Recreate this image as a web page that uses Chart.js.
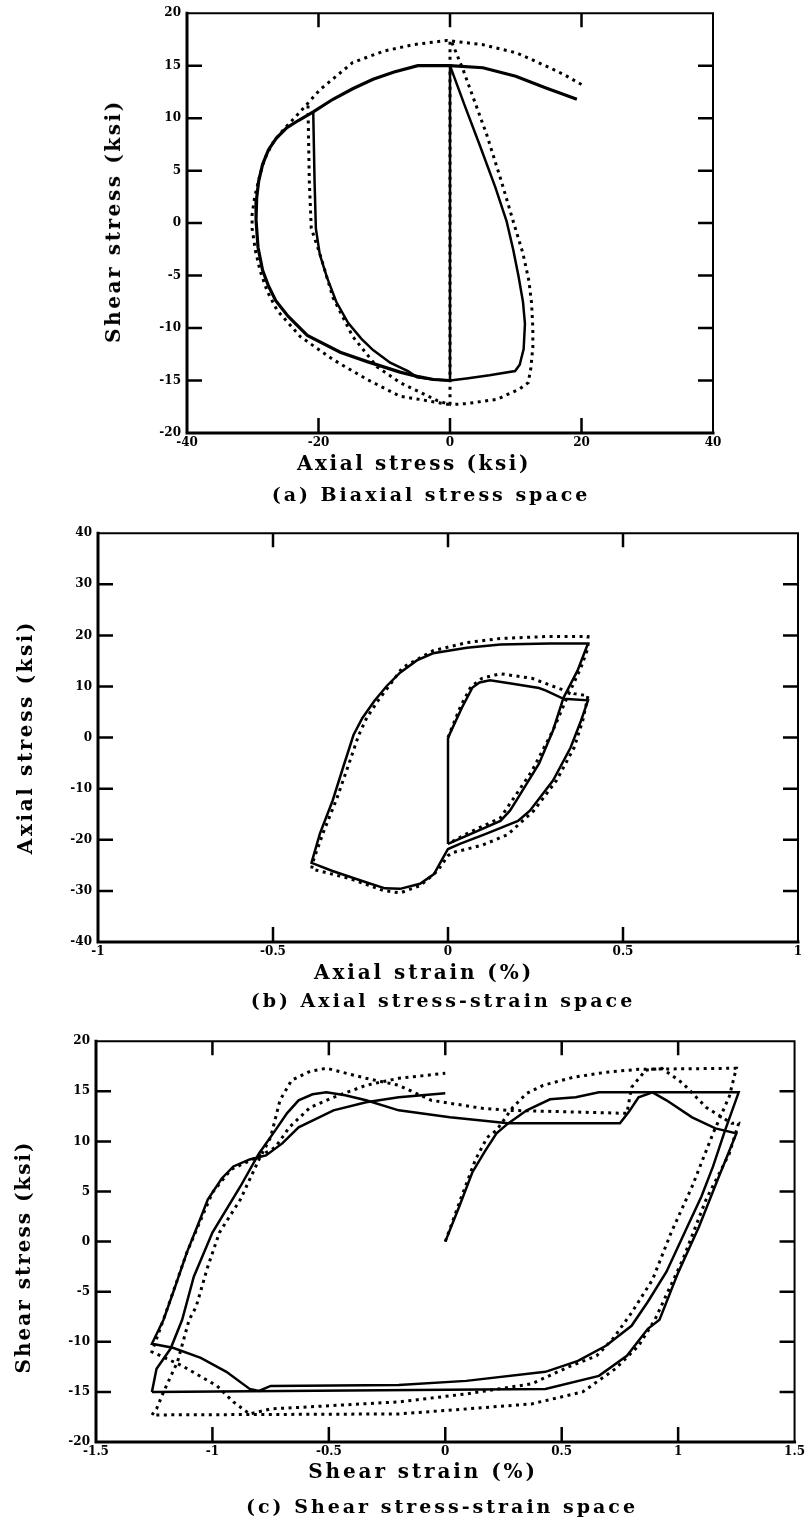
<!DOCTYPE html>
<html>
<head>
<meta charset="utf-8">
<script src="https://cdn.jsdelivr.net/npm/chart.js@4.4.0/dist/chart.umd.min.js"></script>
<style>
  body { margin: 0; background: #fff; width: 808px; height: 1519px; position: relative; overflow: hidden; }
  canvas { position: absolute; left: 0; }
  .lbl { position: absolute; font-family: "DejaVu Serif", serif; font-weight: bold; color: #000;
         white-space: nowrap; transform: translate(-50%, -50%); z-index: 2; }
  .vert { transform: translate(-50%, -50%) rotate(-90deg); }
</style>
</head>
<body>
<canvas id="chartA" width="808" height="460" style="top:0px"></canvas>
<canvas id="chartB" width="808" height="450" style="top:520px"></canvas>
<canvas id="chartC" width="808" height="440" style="top:1028px"></canvas>

<div class="lbl vert" style="left:113px;top:221px;font-size:20px;letter-spacing:2.6px">Shear stress (ksi)</div>
<div class="lbl" style="left:414px;top:463px;font-size:20px;letter-spacing:2.6px">Axial stress (ksi)</div>
<div class="lbl" style="left:431px;top:494px;font-size:19px;letter-spacing:3px">(a) Biaxial stress space</div>

<div class="lbl vert" style="left:25px;top:737px;font-size:20px;letter-spacing:2.6px">Axial stress (ksi)</div>
<div class="lbl" style="left:424px;top:972px;font-size:20px;letter-spacing:2.9px">Axial strain (%)</div>
<div class="lbl" style="left:443px;top:1000px;font-size:19px;letter-spacing:3px">(b) Axial stress-strain space</div>

<div class="lbl vert" style="left:23px;top:1257px;font-size:20px;letter-spacing:2px">Shear stress (ksi)</div>
<div class="lbl" style="left:423px;top:1471px;font-size:20px;letter-spacing:2.9px">Shear strain (%)</div>
<div class="lbl" style="left:442px;top:1506px;font-size:19px;letter-spacing:3px">(c) Shear stress-strain space</div>

<script>
// ---- (a) biaxial stress space: [axial stress, shear stress] in ksi ----
var aShearSolid = [[0, -15], [0, 15]];
var aRightSolid = [[0, 15], [2.3, 11.1], [4.6, 7.3], [6.9, 3.4], [8.6, 0.2], [9.6, -2.5], [10.4, -5],
  [11.1, -7.5], [11.4, -9.6], [11.2, -12], [10.6, -13.5], [9.9, -14.1], [6, -14.5], [2.5, -14.8], [0, -15]];
var aOuterSolid = [[19.3, 11.8], [14.5, 12.9], [10, 14], [5, 14.8], [0, 15], [-4.9, 15], [-8.5, 14.4],
  [-11.7, 13.7], [-14.8, 12.8], [-17.8, 11.8], [-20.8, 10.6], [-23, 9.8], [-24.8, 9.1], [-26.4, 8.1],
  [-27.6, 7], [-28.5, 5.6], [-29.1, 4], [-29.4, 2.4], [-29.5, 0.3], [-29.2, -2.3], [-28.5, -4.5],
  [-27.6, -6], [-26.5, -7.4], [-24.6, -8.9], [-21.7, -10.7], [-16.7, -12.3], [-12.6, -13.2], [-7.6, -14.2],
  [-5, -14.6], [-2.5, -14.9], [0, -15]];
var aInnerSolid = [[-20.8, 10.6], [-20.6, 4], [-20.4, -0.5], [-19.8, -3], [-18.7, -5.2], [-17.3, -7.5],
  [-15.5, -9.5], [-13.5, -11], [-11.7, -12.1], [-9.1, -13.3], [-6.4, -14.1], [-5, -14.7], [-2.5, -14.9], [0, -15]];
var aShearDot = [[0, -17.3], [0, 17.3]];
var aRightDot = [[0.3, 17.2], [2, 14.6], [3.8, 11.5], [5.6, 8.4], [7.9, 3.8], [9.6, 0.2], [11.1, -2.9],
  [12, -5.5], [12.4, -7.6], [12.6, -10], [12.6, -11.8], [12.3, -13.8], [11.9, -15.2], [10.6, -15.8],
  [7.1, -16.8], [2.5, -17.2], [0, -17.3]];
var aOuterDot = [[20, 13.2], [17.5, 14.1], [15.2, 14.8], [10.2, 16.2], [5, 17], [-0.5, 17.4], [-5.6, 17],
  [-10, 16.4], [-14.8, 15.3], [-19.8, 12.7], [-22.8, 10.6], [-25.2, 9], [-26.9, 7.7], [-28.2, 6.1],
  [-28.9, 4.6], [-29.7, 2.5], [-30.1, 0.8], [-30.1, -0.5], [-29.6, -2.6], [-28.9, -4.5], [-27.8, -6.5],
  [-26.3, -8.3], [-22.8, -10.8], [-17.8, -13], [-12.6, -14.9], [-7.6, -16.5], [-4.6, -16.8], [0, -17.3]];
var aInnerDot = [[-21.6, 11.2], [-21.4, 4], [-21.1, -0.5], [-19.8, -2.9], [-17.8, -7.1], [-14.8, -10.8],
  [-11.1, -13.7], [-7.6, -15.2], [-4.6, -16.1], [-2, -16.9], [0, -17.3]];

// ---- (b) axial stress-strain: [axial strain %, axial stress ksi] ----
var bStartSolid = [[0, 0], [0, -20.8]];
var bLoopSolid = [[0, 0], [0.04, 5.9], [0.07, 9.8], [0.09, 10.8], [0.12, 11.2], [0.18, 10.6], [0.26, 9.7],
  [0.28, 9.2], [0.33, 7.6], [0.4, 7.3], [0.38, 3.3], [0.35, -2], [0.3, -8.4], [0.234, -14.3], [0.2, -16.3],
  [0.11, -18.8], [0.034, -20.8], [0, -21.8], [-0.014, -23.5], [-0.04, -26.7], [-0.08, -28.6], [-0.137, -29.6],
  [-0.18, -29.5], [-0.23, -28.4], [-0.33, -26.1], [-0.39, -24.5], [-0.366, -18.8], [-0.33, -12.4],
  [-0.3, -5.9], [-0.27, 0.5], [-0.245, 3.8], [-0.21, 7.2], [-0.175, 10.1], [-0.137, 12.7], [-0.089, 15.1],
  [-0.043, 16.5], [0.054, 17.6], [0.15, 18.2], [0.29, 18.4], [0.4, 18.4], [0.37, 13.1], [0.33, 7.8],
  [0.3, 1.4], [0.26, -5.1], [0.2, -11.8], [0.177, -14.3], [0.15, -16.3], [0.054, -19.2], [0, -20.8]];
var bLoopDot = [[0, 0], [0.035, 6], [0.065, 9.9], [0.097, 11.6], [0.15, 12.5], [0.24, 11.6], [0.31, 9.8],
  [0.36, 8.6], [0.4, 8.2], [0.385, 3.3], [0.36, -2], [0.31, -8.4], [0.245, -14.3], [0.17, -19], [0.1, -21],
  [0.014, -22.5], [0, -23.1], [-0.03, -26.1], [-0.08, -29], [-0.137, -30.4], [-0.186, -29.9], [-0.28, -27.6],
  [-0.39, -25.7], [-0.383, -23.7], [-0.356, -18.5], [-0.318, -12], [-0.285, -5.5], [-0.255, 0.5],
  [-0.232, 3.9], [-0.198, 7.4], [-0.163, 10.6], [-0.13, 13.7], [-0.043, 17], [0.054, 18.6], [0.15, 19.4],
  [0.29, 19.8], [0.4, 19.8], [0.4, 17.6], [0.38, 13.7], [0.34, 7.8], [0.3, 1.4], [0.24, -6.5], [0.15, -15.7],
  [0.054, -18.8], [0, -20.8]];

// ---- (c) shear stress-strain: [shear strain %, shear stress ksi] ----
var cMainSolid = [[0, 0], [0.06, 3.5], [0.116, 6.9], [0.17, 9], [0.22, 10.8], [0.27, 11.8], [0.35, 13.1],
  [0.45, 14.2], [0.56, 14.4], [0.66, 14.9], [1.26, 14.9], [1.2, 11], [1.15, 7.5], [1.1, 4.5], [1.03, 1],
  [0.95, -3], [0.87, -6], [0.8, -8.4], [0.69, -10.4], [0.57, -11.9], [0.43, -13], [0.09, -13.9],
  [-0.2, -14.3], [-0.75, -14.4], [-0.8, -14.9], [-0.84, -14.7], [-0.94, -13], [-1.05, -11.6],
  [-1.17, -10.6], [-1.26, -10.2], [-1.21, -7.8], [-1.16, -4.5], [-1.11, -1.1], [-1.06, 1.8], [-1.02, 4.2],
  [-0.96, 6.3], [-0.91, 7.5], [-0.84, 8.2], [-0.77, 8.6], [-0.7, 9.8], [-0.63, 11.4], [-0.48, 13.1],
  [-0.34, 13.9], [-0.2, 14.4], [0, 14.8]];
var cLoopSolid = [[-1.26, -15], [-1.24, -12.7], [-1.18, -10.7], [-1.13, -7.8], [-1.08, -3.5], [-1, 0.9],
  [-0.88, 5.5], [-0.8, 8.8], [-0.73, 11.1], [-0.68, 12.8], [-0.63, 14.1], [-0.57, 14.7], [-0.51, 14.9],
  [-0.43, 14.6], [-0.34, 14.1], [-0.2, 13.1], [0.02, 12.4], [0.27, 11.8], [0.75, 11.8], [0.79, 13],
  [0.83, 14.4], [0.89, 14.9], [0.95, 14.1], [1.06, 12.4], [1.16, 11.3], [1.25, 10.8], [1.21, 8.5],
  [1.17, 6.2], [1.09, 1.5], [1, -3.1], [0.92, -7.8], [0.87, -8.7], [0.78, -11.4], [0.66, -13.4],
  [0.43, -14.7], [-1.26, -15]];
var cMainDot = [[0, 0], [0.07, 4.5], [0.13, 8.2], [0.18, 10.4], [0.22, 11.1], [0.29, 13.4], [0.35, 14.8],
  [0.42, 15.6], [0.55, 16.4], [0.69, 16.9], [0.83, 17.2], [1.25, 17.3], [1.22, 14.5], [1.15, 10.8],
  [1.06, 5.5], [0.97, 0.9], [0.89, -3.8], [0.8, -7.1], [0.72, -9.7], [0.65, -11.4], [0.54, -12.4],
  [0.37, -14.2], [0.09, -15.2], [-0.2, -16], [-0.75, -16.7], [-0.84, -17.2], [-0.91, -16], [-0.98, -14.4],
  [-1.13, -12.4], [-1.26, -11], [-1.2, -7.1], [-1.11, -1.1], [-1, 4.9], [-0.92, 7.2], [-0.8, 8.5],
  [-0.73, 9.4], [-0.67, 11.4], [-0.58, 13.4], [-0.48, 14.4], [-0.34, 15.6], [-0.2, 16.3], [0, 16.8]];
var cLoopDot = [[-1.26, -17.3], [-1.24, -16.7], [-1.21, -15], [-1.15, -12], [-1.1, -7.8], [-1.07, -6.5],
  [-1.02, -2.5], [-0.97, 0.9], [-0.88, 4.2], [-0.8, 8.2], [-0.75, 10.4], [-0.71, 14.1], [-0.66, 16.1],
  [-0.58, 17], [-0.51, 17.3], [-0.34, 16.3], [-0.2, 15.6], [-0.06, 14.1], [0.16, 13.3], [0.27, 13.1],
  [0.78, 12.8], [0.8, 15.4], [0.86, 17.1], [0.93, 17.3], [1.02, 15.8], [1.12, 13.4], [1.23, 11.8],
  [1.26, 11.8], [1.22, 8.8], [1.12, 4.2], [1.02, -1.8], [0.9, -7.8], [0.83, -10.4], [0.73, -12.7],
  [0.59, -15], [0.37, -16.2], [0.09, -16.7], [-0.2, -17.2], [-1.26, -17.3]];

// inward tick marks
var aTicksX = [-20, 0, 20];
var aTicksY = [15, 10, 5, 0, -5, -10, -15];
var bTicksX = [-0.5, 0, 0.5];
var bTicksY = [30, 20, 10, 0, -10, -20, -30];
var cTicksX = [-1, -0.5, 0, 0.5, 1];
var cTicksY = [15, 10, 5, 0, -5, -10, -15];

// frame + ticks pointing into the plot, like the printed figure
var framePlugin = {
  id: 'frame',
  afterDatasetsDraw: function(chart, args, opts) {
    var ctx = chart.ctx, a = chart.chartArea;
    var xs = chart.scales.x, ys = chart.scales.y;
    ctx.save();
    ctx.strokeStyle = '#000';
    ctx.lineCap = 'square';
    ctx.lineWidth = 3;
    ctx.beginPath();
    ctx.moveTo(a.left, a.top); ctx.lineTo(a.left, a.bottom); ctx.lineTo(a.right, a.bottom);
    ctx.stroke();
    ctx.lineWidth = 2;
    ctx.beginPath();
    ctx.moveTo(a.left, a.top); ctx.lineTo(a.right, a.top); ctx.lineTo(a.right, a.bottom);
    ctx.stroke();
    ctx.lineCap = 'butt';
    ctx.lineWidth = 2.5;
    ctx.beginPath();
    opts.tx.forEach(function(v) {
      var px = xs.getPixelForValue(v);
      ctx.moveTo(px, a.top); ctx.lineTo(px, a.top + 14);
      ctx.moveTo(px, a.bottom); ctx.lineTo(px, a.bottom - 15);
    });
    opts.ty.forEach(function(v) {
      var py = ys.getPixelForValue(v);
      ctx.moveTo(a.left, py); ctx.lineTo(a.left + 15, py);
      ctx.moveTo(a.right - 15, py); ctx.lineTo(a.right, py);
    });
    ctx.stroke();
    ctx.restore();
  }
};

function line(pts, dotted, w) {
  return {
    data: pts.map(function(p) { return { x: p[0], y: p[1] }; }),
    showLine: true,
    borderColor: '#000',
    borderWidth: w || (dotted ? 3 : 2.5),
    borderDash: dotted ? [3, 4.5] : [],
    pointRadius: 0,
    tension: 0,
    fill: false
  };
}

var tickFont = { family: 'DejaVu Serif', weight: 'bold', size: 12 };
function plainNum(v) { return String(Math.round(v * 100) / 100); }

function makeChart(id, sets, xr, yr, pad, tx, ty) {
  return new Chart(document.getElementById(id), {
    type: 'scatter',
    data: { datasets: sets },
    options: {
      responsive: false,
      animation: false,
      events: [],
      layout: { padding: pad },
      plugins: { legend: { display: false }, tooltip: { enabled: false }, frame: { tx: tx, ty: ty } },
      scales: {
        x: {
          type: 'linear', min: xr[0], max: xr[1],
          ticks: { stepSize: xr[2], color: '#000', font: tickFont, padding: 3, maxRotation: 0,
                   autoSkip: false, callback: plainNum },
          grid: { display: false, drawTicks: false, tickLength: 0 }, border: { display: false },
          afterFit: function(s) { s.height = 22; }
        },
        y: {
          type: 'linear', min: yr[0], max: yr[1],
          ticks: { stepSize: yr[2], color: '#000', font: tickFont, padding: 6, autoSkip: false,
                   callback: plainNum },
          grid: { display: false, drawTicks: false, tickLength: 0 }, border: { display: false },
          afterFit: function(s) { s.width = 45; }
        }
      }
    },
    plugins: [framePlugin]
  });
}

makeChart('chartA', [
  line(aOuterSolid, false, 3.2), line(aShearSolid), line(aRightSolid), line(aInnerSolid),
  line(aShearDot, true), line(aRightDot, true), line(aOuterDot, true), line(aInnerDot, true)
], [-40, 40, 20], [-20, 20, 5], { left: 142, right: 95, top: 9, bottom: 5 }, aTicksX, aTicksY);

makeChart('chartB', [
  line(bStartSolid), line(bLoopSolid), line(bLoopDot, true)
], [-1, 1, 0.5], [-40, 40, 10], { left: 53, right: 10, top: 13, bottom: 6 }, bTicksX, bTicksY);

makeChart('chartC', [
  line(cMainSolid), line(cLoopSolid), line(cMainDot, true), line(cLoopDot, true)
], [-1.5, 1.5, 0.5], [-20, 20, 5], { left: 51, right: 12, top: 13, bottom: 4 }, cTicksX, cTicksY);
</script>
</body>
</html>
